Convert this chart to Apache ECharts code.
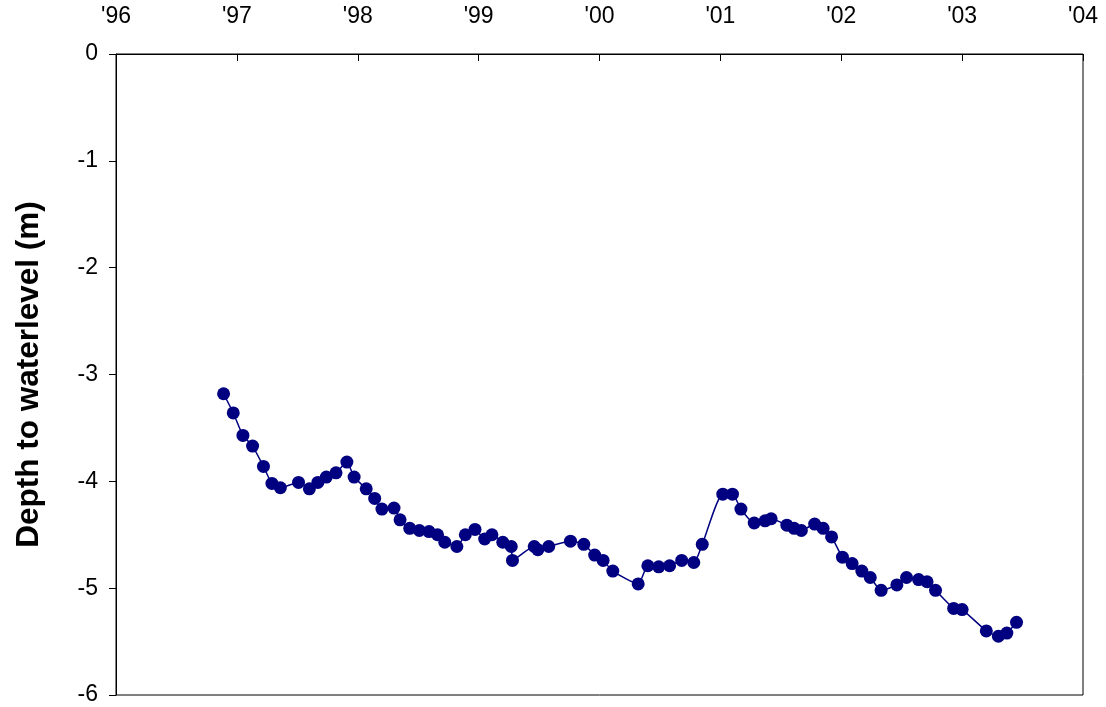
<!DOCTYPE html>
<html>
<head>
<meta charset="utf-8">
<script src="https://cdn.jsdelivr.net/npm/echarts@6/dist/echarts.min.js"></script>
<style>
  html, body { margin: 0; padding: 0; background: #fff; }
  #chart { width: 1106px; height: 707px; }
</style>
</head>
<body>
<div id="chart"></div>
<script>
// sample dates as decimal years
var years = [
    1996.89, 1996.97, 1997.05, 1997.13, 1997.22, 1997.29, 1997.36, 1997.51, 1997.60, 1997.67,
    1997.74, 1997.82, 1997.91, 1997.97, 1998.07, 1998.14, 1998.20, 1998.30, 1998.35, 1998.43,
    1998.51, 1998.59, 1998.66, 1998.72, 1998.82, 1998.89, 1998.97, 1999.05, 1999.11, 1999.20,
    1999.27, 1999.28, 1999.46, 1999.49, 1999.58, 1999.76, 1999.87, 1999.96, 2000.03, 2000.11,
    2000.32, 2000.40, 2000.49, 2000.58, 2000.68, 2000.78, 2000.85, 2001.02, 2001.10, 2001.17,
    2001.28, 2001.37, 2001.42, 2001.55, 2001.61, 2001.67, 2001.78, 2001.85, 2001.92, 2002.01,
    2002.09, 2002.17, 2002.24, 2002.33, 2002.46, 2002.54, 2002.64, 2002.71, 2002.78, 2002.93,
    2003.00, 2003.20, 2003.30, 2003.37, 2003.45
];

var depth = [
    -3.18, -3.36, -3.57, -3.67, -3.86, -4.02, -4.06, -4.01, -4.07, -4.01,
    -3.96, -3.92, -3.82, -3.96, -4.07, -4.16, -4.26, -4.25, -4.36, -4.44,
    -4.46, -4.47, -4.50, -4.57, -4.61, -4.50, -4.45, -4.54, -4.50, -4.57,
    -4.61, -4.74, -4.61, -4.64, -4.61, -4.56, -4.59, -4.69, -4.74, -4.84,
    -4.96, -4.79, -4.80, -4.79, -4.74, -4.76, -4.59, -4.12, -4.12, -4.26,
    -4.39, -4.37, -4.35, -4.41, -4.44, -4.46, -4.40, -4.44, -4.52, -4.71,
    -4.77, -4.84, -4.90, -5.02, -4.97, -4.90, -4.92, -4.94, -5.02, -5.19,
    -5.20, -5.40, -5.45, -5.42, -5.32
];

var points = years.map(function (y, i) { return [y, depth[i]]; });

var font = "'Liberation Sans', Arial, sans-serif";
var chart = echarts.init(document.getElementById('chart'));

chart.setOption({
    animation: false,
    grid: {
        left: 116,
        top: 54,
        right: 23,
        bottom: 12,
        show: true,
        borderColor: '#000',
        borderWidth: 1,
        containLabel: false
    },
    xAxis: {
        type: 'value',
        position: 'top',
        min: 1996,
        max: 2004,
        interval: 1,
        axisLine: { show: true, lineStyle: { color: '#000', width: 1 } },
        axisTick: { show: true, inside: true, length: 7, lineStyle: { color: '#000' } },
        axisLabel: {
            margin: 26,
            color: '#000',
            fontFamily: font,
            fontSize: 23,
            formatter: function (v) { return "'" + String(v).slice(2); }
        },
        splitLine: { show: false }
    },
    yAxis: {
        type: 'value',
        min: -6,
        max: 0,
        interval: 1,
        name: 'Depth to waterlevel (m)',
        nameLocation: 'middle',
        nameRotate: 90,
        nameGap: 71,
        nameTextStyle: {
            color: '#000',
            fontFamily: font,
            fontSize: 31.5,
            fontWeight: 'bold'
        },
        axisLine: { show: true, lineStyle: { color: '#000', width: 1 } },
        axisTick: { show: true, inside: false, length: 7, lineStyle: { color: '#000' } },
        axisLabel: {
            margin: 18,
            color: '#000',
            fontFamily: font,
            fontSize: 23
        },
        splitLine: { show: false }
    },
    series: [{
        name: 'depth',
        type: 'line',
        data: points,
        smooth: 0.2,
        symbol: 'circle',
        symbolSize: 13,
        itemStyle: { color: '#000080' },
        lineStyle: { color: '#000080', width: 1.5 }
    }]
});

window.addEventListener('resize', function () {
    chart.resize();
});
</script>
</body>
</html>
